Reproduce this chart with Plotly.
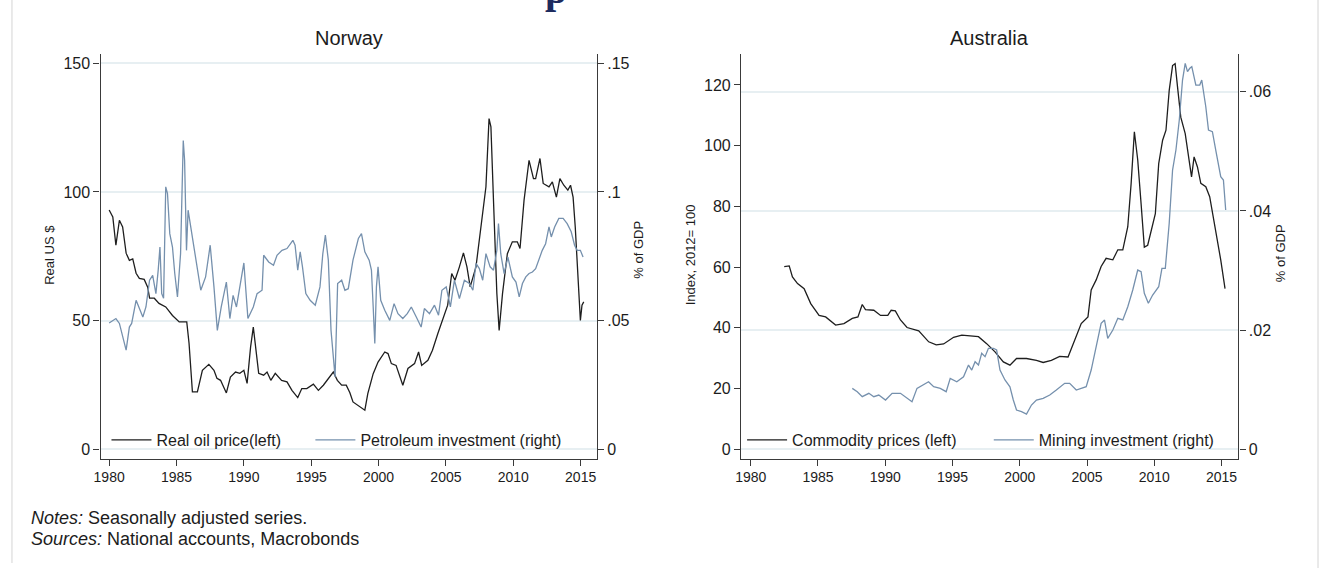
import plotly.graph_objects as go

# ---------------- data ----------------
nor_oil_year = [1980.0, 1980.27, 1980.5, 1980.76, 1981.0, 1981.26, 1981.5, 1981.75, 1982.0, 1982.24,
                1982.6, 1982.86, 1983.0, 1983.35, 1983.7, 1984.2, 1984.7, 1985.2, 1985.76, 1985.93,
                1986.18, 1986.55, 1986.92, 1987.4, 1987.78, 1988.0, 1988.27, 1988.7, 1989.0, 1989.38,
                1989.7, 1990.0, 1990.24, 1990.5, 1990.7, 1990.86, 1991.1, 1991.47, 1991.72, 1992.0,
                1992.33, 1992.8, 1993.2, 1993.57, 1994.0, 1994.3, 1994.67, 1995.16, 1995.53, 1995.9,
                1996.27, 1996.64, 1996.94, 1997.26, 1997.6, 1997.87, 1998.1, 1998.6, 1998.98, 1999.2,
                1999.6, 1999.96, 2000.46, 2000.7, 2000.95, 2001.3, 2001.57, 2001.8, 2002.18, 2002.67,
                2002.97, 2003.2, 2003.66, 2004.0, 2004.4, 2004.76, 2005.13, 2005.43, 2005.67, 2006.0,
                2006.3, 2006.56, 2006.8, 2007.23, 2007.6, 2007.97, 2008.2, 2008.34, 2008.53, 2008.78,
                2008.95, 2009.2, 2009.56, 2009.93, 2010.3, 2010.5, 2010.8, 2011.17, 2011.5, 2011.66,
                2011.98, 2012.22, 2012.65, 2012.9, 2013.2, 2013.46, 2013.75, 2014.05, 2014.25, 2014.44,
                2014.6, 2014.8, 2014.98, 2015.1, 2015.23]
nor_oil_price = [93, 90.3, 79.3, 89, 86.4, 76.2, 73.4, 74, 68.4, 66.4,
                 66, 63, 58.7, 58.7, 56.7, 55.3, 52, 49.5, 49.5, 41.2,
                 22.3, 22.3, 30.7, 33, 30.7, 27.6, 26.8, 21.9, 28.1, 30,
                 29.5, 30.7, 25.6, 39.8, 47.5, 41.2, 29.5, 28.8, 30, 26.8,
                 29.5, 26.8, 26.2, 22.9, 20.1, 23.6, 23.6, 25.3, 22.9, 24.9,
                 27.5, 30, 26.8, 24.9, 24.9, 22.0, 18.4, 16.4, 15.2, 21.6,
                 29.4, 33.9, 37.8, 37.2, 33.3, 32.6, 28.8, 24.9, 31.4, 33.3,
                 37.8, 32.6, 34.6, 38.5, 45, 50.1, 56, 68.3, 65.7, 70.9,
                 76.3, 70.9, 63.1, 70.9, 86.4, 102, 128.5, 125.3, 96.8, 60.5,
                 46.2, 60.5, 76, 80.6, 80.6, 78, 96.8, 112.3, 105.2, 105.2,
                 113, 103.3, 102, 103.9, 98, 105.2, 102.6, 100.7, 102.6, 98,
                 86.4, 68.3, 50.1, 56, 57.3]

nor_inv_year = [1980.0, 1980.5, 1980.76, 1981.0, 1981.26, 1981.5, 1981.67, 1982.0, 1982.24, 1982.5,
                1982.73, 1983.0, 1983.23, 1983.47, 1983.64, 1983.77, 1983.9, 1984.04, 1984.2, 1984.33,
                1984.5, 1984.7, 1984.87, 1985.07, 1985.3, 1985.44, 1985.5, 1985.6, 1985.74, 1985.86,
                1986.0, 1986.3, 1986.8, 1987.16, 1987.5, 1987.78, 1988.03, 1988.32, 1988.7, 1988.96,
                1989.2, 1989.45, 1989.7, 1990.0, 1990.3, 1990.7, 1990.98, 1991.35, 1991.47, 1991.84,
                1992.2, 1992.46, 1992.83, 1993.2, 1993.64, 1993.8, 1994.0, 1994.18, 1994.35, 1994.6,
                1994.92, 1995.3, 1995.65, 1995.86, 1996.05, 1996.27, 1996.47, 1996.64, 1996.77, 1996.96,
                1997.26, 1997.5, 1997.75, 1998.1, 1998.5, 1998.73, 1998.98, 1999.3, 1999.47, 1999.6,
                1999.72, 1999.84, 1999.96, 2000.16, 2000.46, 2000.83, 2001.15, 2001.44, 2001.8, 2002.13,
                2002.43, 2002.8, 2003.16, 2003.4, 2003.78, 2004.15, 2004.45, 2004.7, 2005.02, 2005.33,
                2005.63, 2006.0, 2006.37, 2006.74, 2007.0, 2007.23, 2007.48, 2007.73, 2007.97, 2008.28,
                2008.53, 2008.78, 2008.9, 2009.07, 2009.32, 2009.6, 2009.93, 2010.2, 2010.44, 2010.68,
                2010.93, 2011.17, 2011.42, 2011.66, 2011.9, 2012.15, 2012.4, 2012.65, 2012.82, 2013.07,
                2013.38, 2013.7, 2014.0, 2014.3, 2014.55, 2014.74, 2014.98, 2015.18]
nor_inv_gdp = [0.0491, 0.0508, 0.0489, 0.0437, 0.0385, 0.0475, 0.0489, 0.0579, 0.0547, 0.0514,
               0.0553, 0.0657, 0.0676, 0.0605, 0.0696, 0.0786, 0.0605, 0.0587, 0.1020, 0.0994,
               0.0838, 0.0786, 0.0683, 0.0592, 0.0760, 0.1026, 0.1200, 0.1123, 0.0773, 0.0929,
               0.0883, 0.0773, 0.0618, 0.0670, 0.0793, 0.0631, 0.0462, 0.0553, 0.0650, 0.0508,
               0.0598, 0.0553, 0.0631, 0.0724, 0.0508, 0.0553, 0.0605, 0.0618, 0.0754, 0.0728,
               0.0715, 0.0754, 0.0773, 0.0780, 0.0812, 0.0793, 0.0696, 0.0767, 0.0709, 0.0605,
               0.0579, 0.0560, 0.0631, 0.0760, 0.0832, 0.0735, 0.0462, 0.0346, 0.0281, 0.0644,
               0.0657, 0.0618, 0.0624, 0.0735, 0.0819, 0.0838, 0.0767, 0.0735, 0.0696, 0.0553,
               0.0411, 0.0631, 0.0709, 0.0579, 0.0540, 0.0501, 0.0566, 0.0527, 0.0508, 0.0527,
               0.0553, 0.0514, 0.0475, 0.0547, 0.0527, 0.0560, 0.0521, 0.0618, 0.0631, 0.0553,
               0.0657, 0.0586, 0.0657, 0.0644, 0.0618, 0.0722, 0.0702, 0.0657, 0.0760, 0.0709,
               0.0696, 0.0773, 0.0877, 0.0760, 0.0683, 0.0747, 0.0670, 0.0650, 0.0592, 0.0644,
               0.0670, 0.0683, 0.0689, 0.0702, 0.0735, 0.0773, 0.0799, 0.0864, 0.0825, 0.0864,
               0.0897, 0.0897, 0.0877, 0.0845, 0.0793, 0.0773, 0.0773, 0.0747]

aus_com_year = [1982.49, 1982.86, 1983.1, 1983.48, 1983.97, 1984.46, 1985.08, 1985.57, 1986.31, 1986.93,
                1987.55, 1987.97, 1988.29, 1988.53, 1989.15, 1989.65, 1990.19, 1990.44, 1990.75, 1991.13,
                1991.62, 1992.49, 1993.23, 1993.79, 1994.34, 1995.08, 1995.69, 1996.31, 1996.93, 1997.54,
                1998.16, 1998.78, 1999.27, 1999.76, 2000.5, 2001.24, 2001.74, 2002.35, 2002.97, 2003.59,
                2004.08, 2004.57, 2005.07, 2005.31, 2005.68, 2006.05, 2006.42, 2006.92, 2007.29, 2007.66,
                2008.03, 2008.28, 2008.52, 2008.77, 2009.02, 2009.26, 2009.51, 2009.76, 2010.08, 2010.33,
                2010.62, 2010.87, 2011.11, 2011.36, 2011.55, 2011.73, 2011.97, 2012.3, 2012.54, 2012.77,
                2012.96, 2013.21, 2013.46, 2013.83, 2014.12, 2014.57, 2014.94, 2015.26]
aus_com_index = [60.2, 60.4, 56.8, 54.6, 52.9, 48, 44.1, 43.6, 40.9, 41.4,
                 43.1, 43.6, 47.7, 46, 45.8, 44.1, 44.1, 45.8, 45.6, 42.6,
                 40.1, 39, 35.4, 34.4, 34.7, 36.9, 37.6, 37.3, 37.1, 34.8,
                 32.1, 28.8, 27.7, 29.9, 29.9, 29.3, 28.6, 29.3, 30.6, 30.4,
                 36, 41.4, 43.6, 52.5, 55.8, 60.2, 62.9, 62.4, 65.7, 65.7,
                 73.3, 87.6, 104.6, 95.3, 80.9, 66.6, 67.2, 71.6, 77.6, 94.1,
                 101.8, 105.1, 118.2, 126.4, 127, 119.3, 109.4, 104, 97.4, 89.7,
                 96.3, 93, 87.6, 86.5, 83.2, 72.2, 62.4, 52.9]

aus_min_year = [1987.55, 1987.92, 1988.29, 1988.78, 1989.15, 1989.52, 1990.02, 1990.51, 1991.13, 1991.62,
                1991.99, 1992.36, 1992.85, 1993.22, 1993.6, 1994.09, 1994.53, 1994.83, 1995.32, 1995.82,
                1996.19, 1996.43, 1996.68, 1996.93, 1997.17, 1997.42, 1997.67, 1998.04, 1998.28, 1998.53,
                1998.9, 1999.27, 1999.52, 1999.76, 2000.13, 2000.5, 2000.87, 2001.24, 2001.74, 2002.23,
                2002.72, 2003.34, 2003.71, 2004.2, 2004.57, 2004.94, 2005.31, 2005.68, 2006.05, 2006.3,
                2006.54, 2006.92, 2007.29, 2007.66, 2008.03, 2008.4, 2008.77, 2009.02, 2009.26, 2009.56,
                2009.88, 2010.33, 2010.57, 2010.82, 2011.11, 2011.36, 2011.61, 2011.86, 2012.1, 2012.3,
                2012.47, 2012.64, 2012.79, 2013.09, 2013.38, 2013.53, 2013.83, 2014.03, 2014.32, 2014.57,
                2014.94, 2015.14, 2015.31]
aus_min_gdp = [0.01023, 0.00967, 0.00883, 0.00940, 0.00883, 0.00911, 0.00827, 0.00940, 0.00940, 0.00856,
               0.00799, 0.01023, 0.01079, 0.01134, 0.01050, 0.01023, 0.00967, 0.01191, 0.01134, 0.01218,
               0.01414, 0.01330, 0.01470, 0.01414, 0.01611, 0.01554, 0.01695, 0.01695, 0.01666, 0.01330,
               0.01163, 0.01050, 0.00827, 0.00659, 0.00631, 0.00592, 0.00743, 0.00827, 0.00856, 0.00911,
               0.00995, 0.01107, 0.01107, 0.00995, 0.01023, 0.01050, 0.01330, 0.01722, 0.02114, 0.02170,
               0.01862, 0.02002, 0.02198, 0.02170, 0.02393, 0.02673, 0.03008, 0.02980, 0.02617, 0.02450,
               0.02589, 0.02728, 0.03037, 0.03037, 0.03792, 0.04686, 0.05022, 0.05525, 0.06196, 0.06477,
               0.06336, 0.06393, 0.06420, 0.06112, 0.06112, 0.06196, 0.05748, 0.05357, 0.05329, 0.05022,
               0.04574, 0.04518, 0.04015]

x_ticks = [1980, 1985, 1990, 1995, 2000, 2005, 2010, 2015]
nor_left_ticks = [0, 50, 100, 150]
nor_right_ticks = [0, 0.05, 0.10, 0.15]
nor_right_text = ["0", ".05", ".1", ".15"]
aus_left_ticks = [0, 20, 40, 60, 80, 100, 120]
aus_right_ticks = [0, 0.02, 0.04, 0.06]
aus_right_text = ["0", ".02", ".04", ".06"]

# ---------------- styling ----------------
W, H = 1321, 568
FONT = "Liberation Sans, Arial, sans-serif"
BLACK = "#1e1e1e"
BLUE = "#7590ad"
GRID = "#e7eff2"
AXIS = "#3a3a3a"
TXT = "#1c1c1c"


def px(x):
    return x / W


def py(y):
    return 1 - y / H


Y_DOM = [py(458.5), py(54)]

fig = go.Figure()
fig.add_trace(go.Scatter(x=nor_oil_year, y=nor_oil_price, xaxis="x", yaxis="y", mode="lines",
                         name="Real oil price(left)", line=dict(color=BLACK, width=1.3), legend="legend"))
fig.add_trace(go.Scatter(x=nor_inv_year, y=nor_inv_gdp, xaxis="x", yaxis="y2", mode="lines",
                         name="Petroleum investment (right)", line=dict(color=BLUE, width=1.3), legend="legend2"))
fig.add_trace(go.Scatter(x=aus_com_year, y=aus_com_index, xaxis="x2", yaxis="y3", mode="lines",
                         name="Commodity prices (left)", line=dict(color=BLACK, width=1.3), legend="legend3"))
fig.add_trace(go.Scatter(x=aus_min_year, y=aus_min_gdp, xaxis="x2", yaxis="y4", mode="lines",
                         name="Mining investment (right)", line=dict(color=BLUE, width=1.3), legend="legend4"))

axis_common = dict(showline=True, linecolor=AXIS, linewidth=1.3, ticks="outside", ticklen=6,
                   tickcolor=AXIS, tickwidth=1.3, zeroline=False, tickfont=dict(family=FONT, size=16, color=TXT))
xcommon = dict(axis_common, tickvals=x_ticks, showgrid=False, tickfont=dict(family=FONT, size=14, color=TXT))

legend_common = dict(orientation="h", xanchor="left", yanchor="middle", bgcolor="rgba(0,0,0,0)",
                     font=dict(family=FONT, size=16, color=TXT), itemwidth=40, borderwidth=0)

fig.update_layout(
    width=W, height=H,
    margin=dict(l=0, r=0, t=0, b=0),
    paper_bgcolor="white", plot_bgcolor="white",
    showlegend=True,
    xaxis=dict(xcommon, domain=[px(94), px(593)], range=[1979.357, 2016.204], anchor="y"),
    yaxis=dict(axis_common, domain=Y_DOM, range=[-3.58, 153.6], tickvals=nor_left_ticks,
               showgrid=True, gridcolor=GRID, gridwidth=1.5, anchor="x"),
    yaxis2=dict(axis_common, range=[-0.00358, 0.1536], tickvals=nor_right_ticks, ticktext=nor_right_text,
                overlaying="y", side="right", anchor="x", showgrid=False),
    xaxis2=dict(xcommon, domain=[px(738), px(1238)], range=[1979.283, 2016.257], anchor="y3"),
    yaxis3=dict(axis_common, domain=Y_DOM, range=[-3.03, 130.2], tickvals=aus_left_ticks,
                showgrid=False, anchor="x2"),
    yaxis4=dict(axis_common, range=[-0.00154, 0.06633], tickvals=aus_right_ticks, ticktext=aus_right_text,
                overlaying="y3", side="right", anchor="x2", showgrid=True, gridcolor=GRID, gridwidth=1.5),
    legend=dict(legend_common, x=px(100), y=py(440)),
    legend2=dict(legend_common, x=px(305), y=py(440)),
    legend3=dict(legend_common, x=px(739), y=py(440)),
    legend4=dict(legend_common, x=px(987), y=py(440)),
)

annotations = [
    dict(text="Norway", x=px(344), y=py(38), font=dict(family=FONT, size=20, color=TXT)),
    dict(text="Australia", x=px(988), y=py(38), font=dict(family=FONT, size=20, color=TXT)),
    dict(text="Real US $", x=px(42), y=py(255), textangle=-90, font=dict(family=FONT, size=13, color=TXT)),
    dict(text="% of GDP", x=px(635), y=py(250), textangle=-90, font=dict(family=FONT, size=13, color=TXT)),
    dict(text="Index, 2012= 100", x=px(687), y=py(255), textangle=-90, font=dict(family=FONT, size=13, color=TXT)),
    dict(text="% of GDP", x=px(1280), y=py(253), textangle=-90, font=dict(family=FONT, size=13, color=TXT)),
    dict(text="<i>Notes:</i> Seasonally adjusted series.", x=px(22), y=py(518), xanchor="left",
         font=dict(family=FONT, size=18, color=TXT)),
    dict(text="<i>Sources:</i> National accounts, Macrobonds", x=px(22), y=py(539), xanchor="left",
         font=dict(family=FONT, size=18, color=TXT)),
    dict(text="<b>p</b>", x=px(552), y=py(14), xanchor="center", yanchor="bottom",
         font=dict(family="Liberation Serif, serif", size=40, color="#1d2b5e")),
]
for a in annotations:
    a.setdefault("xref", "paper")
    a.setdefault("yref", "paper")
    a.setdefault("showarrow", False)
    a.setdefault("xanchor", "center")
    a.setdefault("yanchor", "middle")
fig.update_layout(annotations=annotations)

fig.update_layout(shapes=[
    dict(type="line", xref="paper", yref="paper", x0=px(5), x1=px(5), y0=py(563), y1=1,
         line=dict(color="#d4d4d4", width=1)),
    dict(type="line", xref="paper", yref="paper", x0=px(1318), x1=px(1318), y0=0, y1=1,
         line=dict(color="#d4d4d4", width=1)),
])

# remove the browser's default 8px page margin so figure pixels map 1:1 onto the window
fig.write_html("out.html", config={"displayModeBar": False},
               post_script="document.body.style.margin='0px';")
